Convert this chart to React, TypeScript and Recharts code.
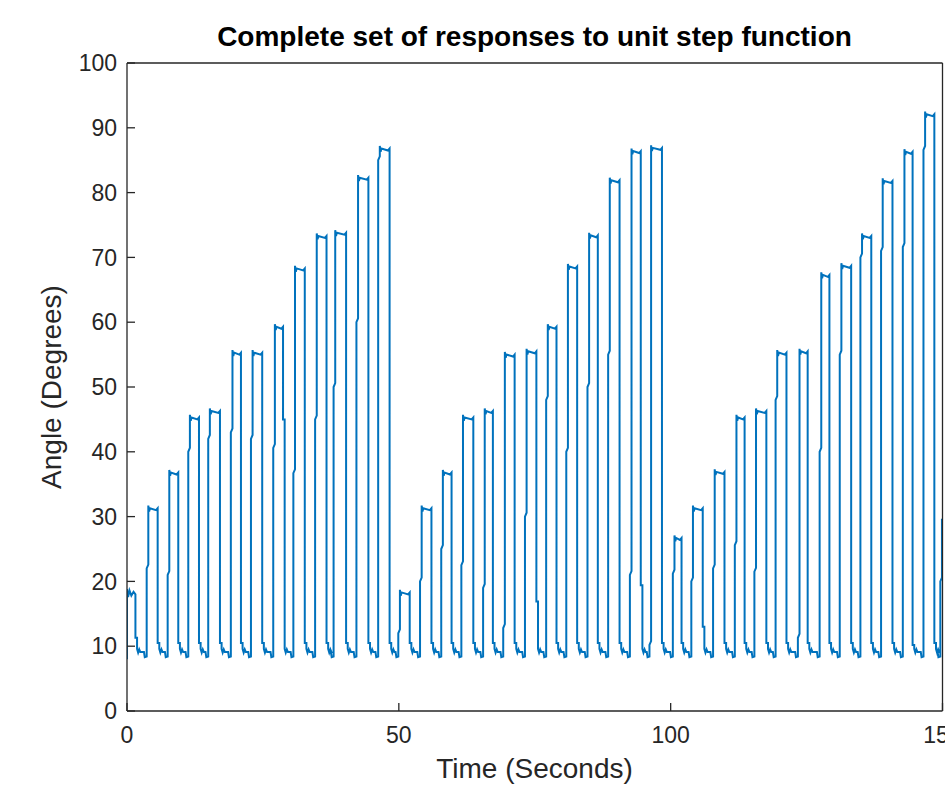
import React from 'react';
import { LineChart, Line, XAxis, YAxis } from 'recharts';

// ---- Axis ticks ----
const xTicks = [0, 50, 100, 150];
const yTicks = [0, 10, 20, 30, 40, 50, 60, 70, 80, 90, 100];

// ---- Pulse data (seconds / degrees) ----
const riseTimes = [0, 3.62, 7.48, 11.27, 14.94, 19.1, 22.8, 26.9, 30.6, 34.6, 38.0, 42.2, 46.2,
  49.9, 53.9, 57.8, 61.5, 65.5, 69.2, 73.2, 77.1, 80.8, 84.7, 88.5, 92.5, 96.1,
  100.4, 103.8, 107.8, 111.8, 115.4, 119.3, 123.4, 127.4, 131.1, 134.9, 138.7, 142.7, 146.5, 149.6];
const fallTimes = [1.55, 5.64, 9.43, 13.24, 17.1, 20.96, 24.87, 28.7, 32.7, 36.7, 40.3, 44.4, 48.3,
  52.0, 56.0, 59.7, 63.7, 67.3, 71.3, 75.3, 79.0, 82.8, 86.6, 90.6, 94.5, 98.4,
  102.0, 105.9, 109.9, 113.6, 117.6, 121.3, 125.2, 129.2, 133.2, 136.9, 140.8, 144.5, 148.5, 150];
const topLevels = [18, 31, 36.5, 45, 46, 55, 55, 59, 68, 73, 73.5, 82, 86.5,
  18, 31, 36.5, 45, 46, 54.7, 55.2, 59, 68.3, 73.1, 81.6, 86.1, 86.6,
  26.4, 31, 36.6, 45, 46, 55, 55.2, 67, 68.4, 73, 81.5, 86, 91.8, 29.5];
const riseJogLevels = [18, 22, 21, 40, 42, 43, 42, 40.6, 36.7, 45, 50, 60, 85,
  12, 20, 25, 22.5, 19, 12.8, 30, 48, 40, 50, 55, 21, 10.2,
  21.2, 20, 22, 25.6, 21.5, 48, 11.3, 40, 55, 70, 71, 71.6, 86.6, 20];
const fallJogLevels = [11.3, 10.5, 10.5, 10.5, 10.5, 10.5, 10.5, 45, 10.5, 10.5, 10.5, 10.5, 10.5,
  10.5, 10.5, 10.5, 10.5, 10.5, 10.5, 16.9, 10.5, 10.5, 10.5, 10.5, 19.4, 10.5,
  10.5, 13, 10.5, 10.5, 10.5, 10.5, 10.5, 10.5, 10.5, 10.5, 10.5, 10.2, 10.5, 29.5];
const firstPlateau = [18.8, 17.6, 18.6, 17.8, 18.4, 18];
const firstPlateauTimes = [0, 0.2, 0.45, 0.8, 1.2, 1.55];
const startLevel = 8;
const baseHigh = 9.6;
const baseLevel = 9.1;
const baseDip = 8.3;
const JOG = 0.3;

type Pt = { t: number; v: number };

function buildSeries(): Pt[] {
  const pts: Pt[] = [{ t: 0, v: startLevel }];
  const n = riseTimes.length;
  for (let i = 0; i < n; i++) {
    const tr = riseTimes[i];
    const tf = fallTimes[i];
    const top = topLevels[i];
    if (i === 0) {
      firstPlateauTimes.forEach((t, k) => pts.push({ t, v: firstPlateau[k] }));
    } else if (i === n - 1) {
      pts.push({ t: tr, v: riseJogLevels[i] });
      pts.push({ t: tr + JOG, v: riseJogLevels[i] + 0.6 });
      pts.push({ t: tr + JOG, v: top });
      pts.push({ t: tf, v: top });
      break;
    } else {
      pts.push({ t: tr, v: riseJogLevels[i] });
      pts.push({ t: tr + JOG, v: riseJogLevels[i] + 0.6 });
      pts.push({ t: tr + JOG, v: top + 0.7 });
      pts.push({ t: tr + JOG + 0.15, v: top - 0.2 });
      pts.push({ t: tr + JOG + 0.3, v: top + 0.3 });
      pts.push({ t: tf - 0.3, v: top });
      pts.push({ t: tf, v: top + 0.3 });
    }
    // fall and baseline
    const fj = fallJogLevels[i];
    const next = riseTimes[i + 1];
    pts.push({ t: tf, v: fj });
    pts.push({ t: tf + JOG, v: fj });
    pts.push({ t: tf + JOG, v: baseHigh });
    pts.push({ t: tf + JOG + 0.2, v: baseLevel - 0.1 });
    pts.push({ t: tf + JOG + 0.4, v: baseHigh - 0.1 });
    pts.push({ t: tf + JOG + 0.6, v: baseLevel });
    pts.push({ t: next - 0.5, v: baseLevel });
    pts.push({ t: next - 0.35, v: baseDip });
    pts.push({ t: next, v: baseDip + 0.1 });
  }
  return pts;
}

const data = buildSeries();

const FONT = "'Liberation Sans', Arial, Helvetica, sans-serif";
const AXIS = '#262626';

export default function App() {
  return (
    <div style={{ position: 'absolute', left: 0, top: 0, width: 945, height: 794, overflow: 'hidden', background: '#fff', fontFamily: FONT }}>
      <LineChart width={945} height={794} data={data} margin={{ top: 62, right: 1.5, bottom: 43, left: 0 }}>
        <XAxis
          xAxisId="b"
          type="number"
          dataKey="t"
          domain={[0, 150]}
          ticks={xTicks}
          interval={0}
          allowDataOverflow
          orientation="bottom"
          height={40}
          tickSize={-8}
          tickMargin={24}
          axisLine={{ stroke: AXIS, strokeWidth: 1.3 }}
          tickLine={{ stroke: AXIS, strokeWidth: 1.3 }}
          tick={{ fill: AXIS, fontSize: 23, fontFamily: FONT }}
        />
        <XAxis
          xAxisId="t"
          type="number"
          dataKey="t"
          domain={[0, 150]}
          ticks={xTicks}
          interval={0}
          allowDataOverflow
          orientation="top"
          height={1}
          tickSize={-8}
          axisLine={{ stroke: AXIS, strokeWidth: 1.3 }}
          tickLine={{ stroke: AXIS, strokeWidth: 1.3 }}
          tick={false}
        />
        <YAxis
          yAxisId="l"
          type="number"
          domain={[0, 100]}
          ticks={yTicks}
          interval={0}
          allowDataOverflow
          orientation="left"
          width={127}
          tickSize={-8}
          tickMargin={18}
          axisLine={{ stroke: AXIS, strokeWidth: 1.3 }}
          tickLine={{ stroke: AXIS, strokeWidth: 1.3 }}
          tick={{ fill: AXIS, fontSize: 23, fontFamily: FONT }}
        />
        <YAxis
          yAxisId="r"
          type="number"
          domain={[0, 100]}
          ticks={yTicks}
          interval={0}
          allowDataOverflow
          orientation="right"
          width={1}
          tickSize={-8}
          axisLine={{ stroke: AXIS, strokeWidth: 1.3 }}
          tickLine={{ stroke: AXIS, strokeWidth: 1.3 }}
          tick={false}
        />
        <Line
          xAxisId="t"
          yAxisId="r"
          type="linear"
          dataKey="v"
          stroke="none"
          strokeWidth={0}
          dot={false}
          activeDot={false}
          legendType="none"
          isAnimationActive={false}
        />
        <Line
          xAxisId="b"
          yAxisId="l"
          type="linear"
          dataKey="v"
          stroke="#0072BD"
          strokeWidth={2}
          dot={false}
          activeDot={false}
          isAnimationActive={false}
        />
      </LineChart>
      <div style={{ position: 'absolute', left: 127, width: 815, top: 23.3, textAlign: 'center', fontSize: 28, lineHeight: '28px', fontWeight: 'bold', color: '#000', whiteSpace: 'nowrap' }}>
        Complete set of responses to unit step function
      </div>
      <div style={{ position: 'absolute', left: 127, width: 815, top: 755.3, textAlign: 'center', fontSize: 28, lineHeight: '28px', color: AXIS, whiteSpace: 'nowrap' }}>
        Time (Seconds)
      </div>
      <div style={{ position: 'absolute', left: -147.7, width: 400, top: 372.5, height: 28, textAlign: 'center', fontSize: 28, lineHeight: '28px', color: AXIS, whiteSpace: 'nowrap', transform: 'rotate(-90deg)' }}>
        Angle (Degrees)
      </div>
    </div>
  );
}
